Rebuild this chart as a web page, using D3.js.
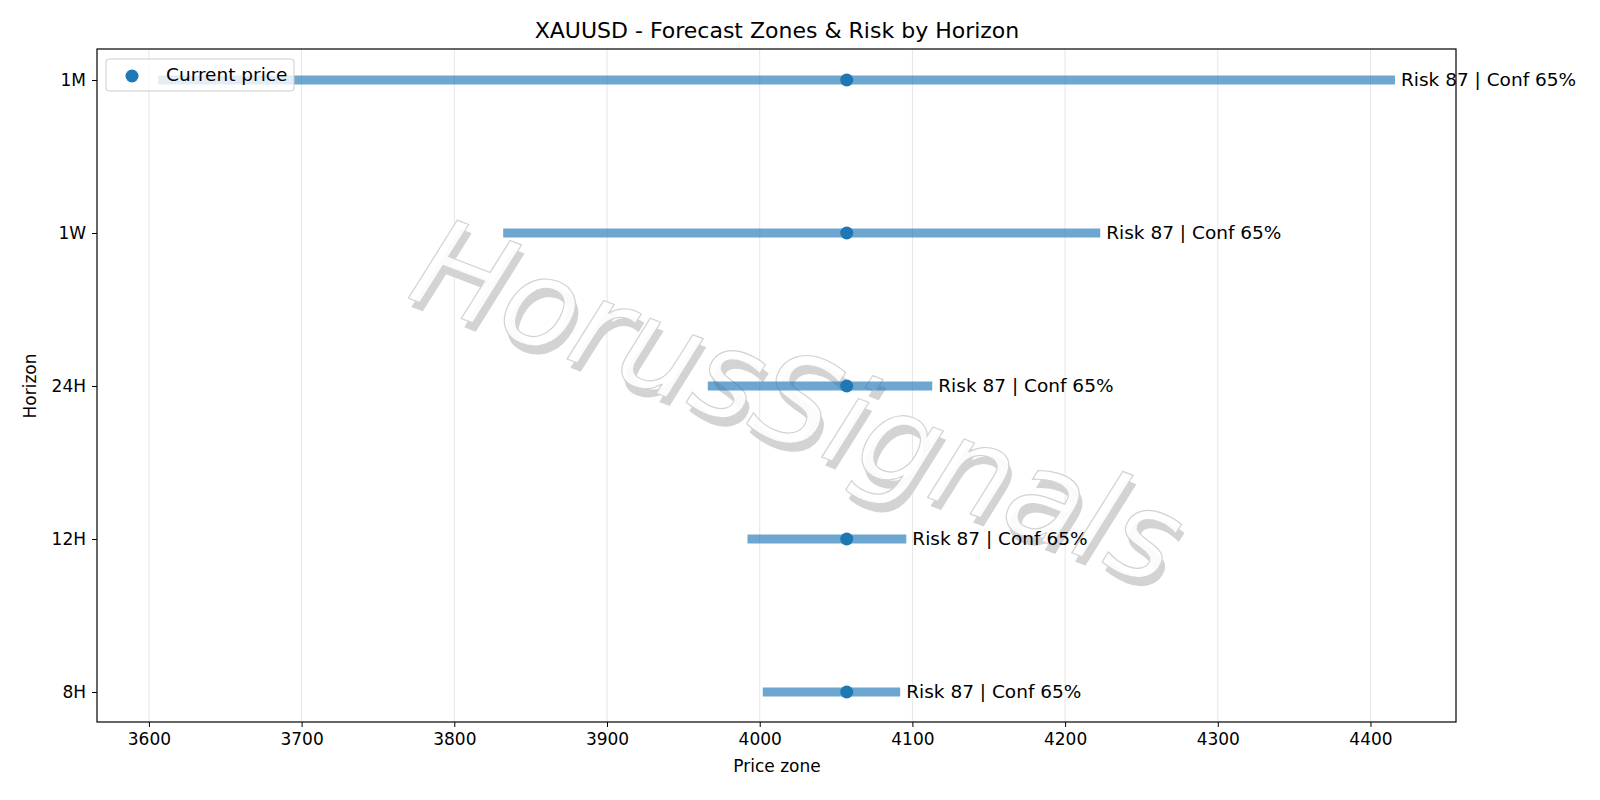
<!DOCTYPE html>
<html><head><meta charset="utf-8">
<script src="https://cdn.jsdelivr.net/npm/d3@7"></script>
<style>body{margin:0;background:#fff}text{font-family:"DejaVu Sans",sans-serif}</style>
</head><body><svg id="c" width="1600" height="800"></svg>
<script>
const horizons = ["1M","1W","24H","12H","8H"];
const lows = [3606,3832,3966,3992,4002];
const highs = [4416,4223,4113,4096,4092];
const current = [4057,4057,4057,4057,4057];
const labels = ["Risk 87 | Conf 65%","Risk 87 | Conf 65%","Risk 87 | Conf 65%","Risk 87 | Conf 65%","Risk 87 | Conf 65%"];
const xTicks = [3600,3700,3800,3900,4000,4100,4200,4300,4400];

const svg = d3.select("#c");
const L=97,R=1456,T=49,B=722;
const x = d3.scaleLinear().domain([3566,4456]).range([L,R]);
const y = d3.scalePoint().domain(horizons).range([80,692]);
const blue="#1f77b4";

svg.append("g").selectAll("line").data(xTicks).join("line")
  .attr("x1",d=>x(d)).attr("x2",d=>x(d)).attr("y1",T).attr("y2",B)
  .attr("stroke","#e6e6e6").attr("stroke-width",1);

const wm = svg.append("g").attr("transform","translate(795,410) rotate(21)");
wm.append("text").attr("x",6).attr("y",7).attr("text-anchor","middle").attr("dominant-baseline","middle")
  .attr("font-size",124).attr("font-style","italic").attr("fill","#d3d3d3").text("HorusSignals");
wm.append("text").attr("text-anchor","middle").attr("dominant-baseline","middle")
  .attr("font-size",124).attr("font-style","italic").attr("fill","#ffffff").attr("fill-opacity",0.9)
  .attr("stroke","#d3d3d3").attr("stroke-width",1.2).text("HorusSignals");

svg.append("g").selectAll("line").data(horizons).join("line")
  .attr("x1",(d,i)=>x(lows[i])).attr("x2",(d,i)=>x(highs[i]))
  .attr("y1",d=>y(d)).attr("y2",d=>y(d))
  .attr("stroke",blue).attr("stroke-opacity",0.65).attr("stroke-width",9);
svg.append("g").selectAll("circle").data(horizons).join("circle")
  .attr("cx",(d,i)=>x(current[i])).attr("cy",d=>y(d)).attr("r",6.5).attr("fill",blue);
svg.append("g").selectAll("text").data(horizons).join("text")
  .attr("x",(d,i)=>x(highs[i])+6).attr("y",d=>y(d)).attr("dy","0.35em")
  .attr("font-size",18.5).text((d,i)=>labels[i]);

const xa = svg.append("g").attr("transform",`translate(0,${B})`).call(d3.axisBottom(x).tickValues(xTicks).tickFormat(d3.format("d")).tickSize(5).tickPadding(6));
const ya = svg.append("g").attr("transform",`translate(${L},0)`).call(d3.axisLeft(y).tickSize(5).tickPadding(6));
[xa,ya].forEach(a=>{a.selectAll("text").attr("font-size",17).attr("fill","#000").attr("font-family","DejaVu Sans");a.select(".domain").remove();});
svg.append("rect").attr("x",L).attr("y",T).attr("width",R-L).attr("height",B-T).attr("fill","none").attr("stroke","#000").attr("stroke-width",1.2);

svg.append("text").attr("x",777).attr("y",38).attr("text-anchor","middle").attr("font-size",22).text("XAUUSD - Forecast Zones & Risk by Horizon");
svg.append("text").attr("x",777).attr("y",772).attr("text-anchor","middle").attr("font-size",17).text("Price zone");
svg.append("text").attr("transform","translate(36,386) rotate(-90)").attr("text-anchor","middle").attr("font-size",17).text("Horizon");

const lg = svg.append("g");
lg.append("rect").attr("x",106).attr("y",59).attr("width",188).attr("height",32).attr("rx",3)
  .attr("fill","#fff").attr("fill-opacity",0.8).attr("stroke","#ccc");
lg.append("circle").attr("cx",132).attr("cy",76).attr("r",6.5).attr("fill",blue);
lg.append("text").attr("x",166).attr("y",75).attr("dy","0.35em").attr("font-size",18.5).text("Current price");
</script></body></html>
